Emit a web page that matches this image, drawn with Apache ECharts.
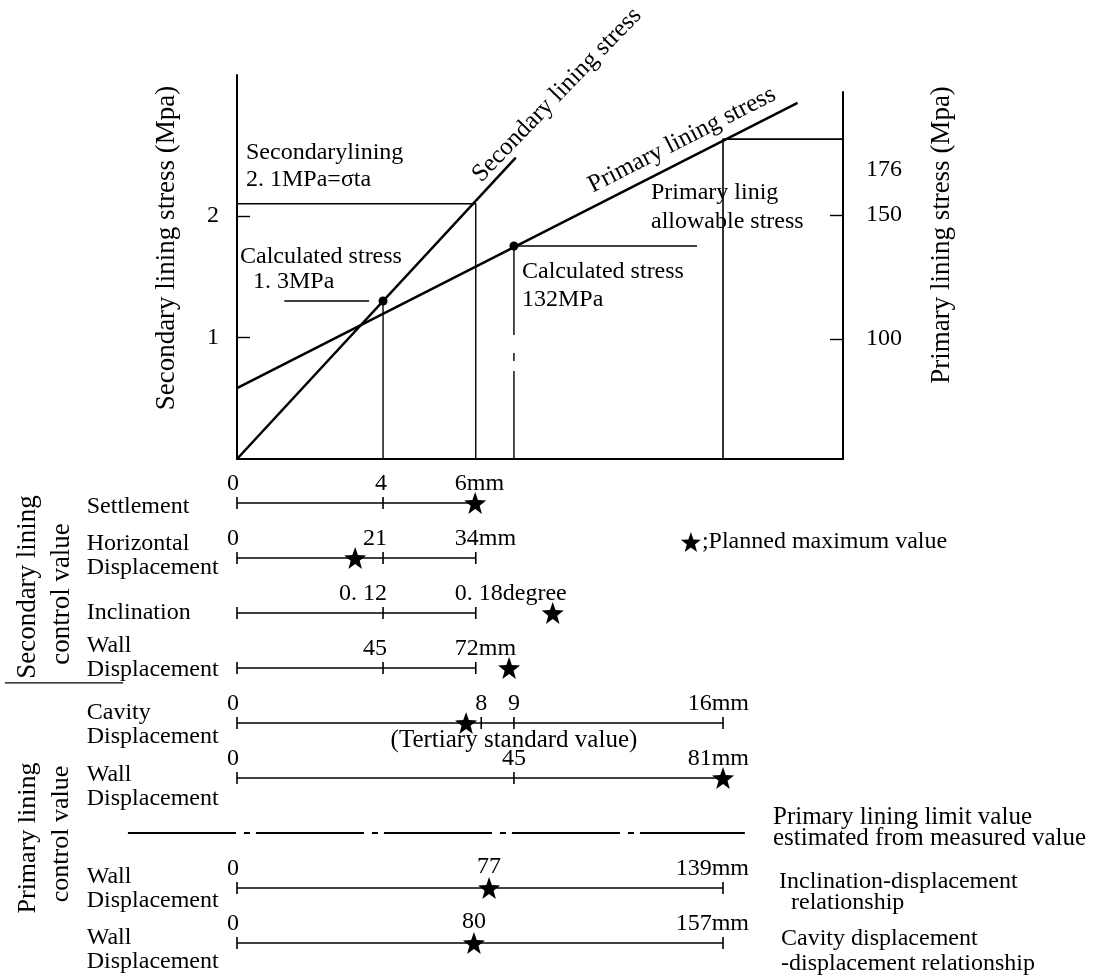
<!DOCTYPE html>
<html><head><meta charset="utf-8">
<script src="https://cdn.jsdelivr.net/npm/echarts@6/dist/echarts.min.js"></script>
<style>html,body{margin:0;padding:0;background:#fff}#c{width:1095px;height:979px}</style>
</head><body><div id="c"></div>
<script>
// ================= DATA =================
// x = schematic position along the displacement scales (0 = origin, 100 = right axis)
const secondaryStressLine = [[0, 0], [46.0, 2.48]];              // MPa (left axis)
const secondaryAllowable  = [[0, 2.1], [39.4, 2.1], [39.4, 0]];   // 2.1 MPa = σta
const secondaryCalculated = [24.1, 1.3];                          // 1.3 MPa
const primaryStressLine   = [[0, 80.2], [92.5, 195.2]];           // MPa (right axis)
const primaryCalculated   = [45.7, 137.5];                        // labelled 132 MPa
const primaryAllowable    = [[100, 180.6], [80.2, 180.6], [80.2, 51.6]]; // labelled 176
const leftTickValues  = [1, 2];
const rightTickValues = [100, 150];

// control value rows (row 6 is the dash-dot "limit value" divider)
const rowNames = ['Settlement', 'Horizontal\nDisplacement', 'Inclination', 'Wall\nDisplacement',
  'Cavity\nDisplacement', 'Wall\nDisplacement', '', 'Wall\nDisplacement', 'Wall\nDisplacement'];
const rowTickPos = [[0, 24.1, 39.4], [0, 24.1, 39.4], [0, 24.1, 39.4], [0, 24.1, 39.4],
  [0, 40.3, 45.7, 80.2], [0, 45.7, 80.2], [], [0, 80.2], [0, 80.2]];
const rowTickLabels = [['0', '4', '6mm'], ['0', '21', '34mm'], ['', '0. 12', '0. 18degree'], ['', '45', '72mm'],
  ['0', '8', '9', '16mm'], ['0', '45', '81mm'], [], ['0', '139mm'], ['0', '157mm']];
const starPos    = [39.3, 19.5, 52.1, 44.9, 37.8, 80.2, null, 41.6, 39.1];
const starLabels = ['', '', '', '', '', '', '', '77', '80'];

// ================= STYLE =================
const FONT = '"Liberation Serif","Times New Roman",serif';
const STAR = 'path://M12,0.5 L14.9,8.6 L23.5,8.9 L16.7,14.2 L19.1,22.5 L12,17.6 L4.9,22.5 L7.3,14.2 L0.5,8.9 L9.1,8.6 Z';
const rowNameDy = [4, -2, 0, -10, 2, 9, 0, 1, 7];
const rowNameX = -24.8;
const BLACK = { color: '#000', opacity: 1 };

const line = (data, i, w, extra) => ({
  type: 'line', xAxisIndex: i, yAxisIndex: i, data, symbol: 'none', silent: true, clip: false,
  animation: false, lineStyle: Object.assign({ color: '#000', width: w }, extra || {})
});
const series = [];

// ---- top chart: secondary (grid 0)
series.push(line(secondaryStressLine, 0, 2.5));
series.push(line(secondaryAllowable, 0, 1.4));
series.push(line([[7.8, secondaryCalculated[1]], [21.8, secondaryCalculated[1]]], 0, 1.4));
series.push(line([secondaryCalculated, [secondaryCalculated[0], 0]], 0, 1.4));
series.push({ type: 'scatter', xAxisIndex: 0, yAxisIndex: 0, data: [secondaryCalculated], symbolSize: 9,
  itemStyle: BLACK, silent: true, animation: false });

// ---- top chart: primary (grid 1)
series.push(line(primaryStressLine, 1, 2.5));
series.push(line([primaryCalculated, [75.9, primaryCalculated[1]]], 1, 1.4));
series.push(line([primaryCalculated, [primaryCalculated[0], 51.6]], 1, 1.4, { type: [89, 18, 8, 10, 400] }));
series.push(line(primaryAllowable, 1, 1.6));
series.push({ type: 'scatter', xAxisIndex: 1, yAxisIndex: 1, data: [primaryCalculated], symbolSize: 9,
  itemStyle: BLACK, silent: true, animation: false });

// ---- rows (grid 2)
const tickData = [], labelData = [], starData = [], nameData = [];
rowTickPos.forEach((ticks, r) => {
  if (ticks.length) series.push(line([[0, r], [ticks[ticks.length - 1], r]], 2, 1.4));
  ticks.forEach((p, k) => {
    tickData.push([p, r]);
    const t = rowTickLabels[r][k];
    if (!t) return;
    let align = 'center', dx = 0;
    const last = k === ticks.length - 1;
    if (t === '0') { dx = -4; }
    else if (r <= 3 && k === 1) { align = 'right'; dx = 4; }
    else if (r <= 3 && last) { align = 'left'; dx = -21; }
    else if (last) { align = 'right'; dx = 26; }
    labelData.push({ value: [p, r], label: { formatter: t, align, offset: [dx, 0] } });
  });
  if (starPos[r] != null) {
    starData.push([starPos[r], r]);
    if (starLabels[r]) labelData.push({ value: [starPos[r], r], label: { formatter: starLabels[r], align: 'center', offset: [0, -2] } });
  }
  if (rowNames[r]) nameData.push({ value: [rowNameX, r], label: { formatter: rowNames[r], offset: [0, rowNameDy[r]] } });
});
// note under the cavity "9" tick
labelData.push({ value: [rowTickPos[4][2], 4], label: { formatter: '(Tertiary standard value)', position: 'bottom', distance: 5, fontSize: 25, align: 'center' } });

series.push({ type: 'scatter', xAxisIndex: 2, yAxisIndex: 2, data: tickData, symbol: 'rect', symbolSize: [1.6, 12],
  itemStyle: BLACK, silent: true, animation: false, clip: false });
series.push({ type: 'scatter', xAxisIndex: 2, yAxisIndex: 2, data: labelData, symbolSize: 0, itemStyle: BLACK,
  silent: true, animation: false, clip: false,
  label: { show: true, position: 'top', distance: 7, color: '#000', fontFamily: FONT, fontSize: 24 } });
series.push({ type: 'scatter', xAxisIndex: 2, yAxisIndex: 2, data: starData, symbol: STAR, symbolSize: 22,
  itemStyle: BLACK, silent: true, animation: false, clip: false, z: 5 });
series.push({ type: 'scatter', xAxisIndex: 2, yAxisIndex: 2, data: nameData, symbolSize: 0, itemStyle: BLACK,
  silent: true, animation: false, clip: false,
  label: { show: true, position: 'right', distance: 0, color: '#000', fontFamily: FONT, fontSize: 24, lineHeight: 24, align: 'left' } });
// legend star
series.push({ type: 'scatter', xAxisIndex: 2, yAxisIndex: 2, data: [[74.9, 0.71]], symbol: STAR, symbolSize: 20,
  itemStyle: BLACK, silent: true, animation: false, clip: false,
  label: { show: true, position: 'right', distance: 1, formatter: ';Planned maximum value', color: '#000', fontFamily: FONT, fontSize: 24 } });
// dash-dot divider & separator
series.push(line([[-18, 6], [83.8, 6]], 2, 2, { type: [108, 8, 6, 6] }));
series.push(line([[-38.3, 3.27], [-18.8, 3.27]], 2, 1.4));

// ================= GRAPHIC TEXT =================
const T = (x, y, text, o) => {
  o = o || {};
  return { type: 'text', x, y, rotation: (o.rot || 0) * Math.PI / 180, silent: true,
    style: { text, fill: '#000', fontFamily: FONT, fontSize: o.size || 24, align: o.align || 'left',
      verticalAlign: 'middle', lineHeight: o.lh || undefined } };
};
const graphic = [
  T(246, 153, 'Secondarylining'),
  T(246, 180, '2. 1MPa=σta'),
  T(240, 257, 'Calculated stress'),
  T(253, 282, '1. 3MPa'),
  T(522, 272, 'Calculated stress'),
  T(522, 300, '132MPa'),
  T(651, 193, 'Primary linig'),
  T(651, 222, 'allowable stress'),
  T(866, 170, '176'),
  T(557, 95, 'Secondary lining stress', { rot: 46, align: 'center', size: 25 }),
  T(682, 140, 'Primary lining stress', { rot: 27, align: 'center', size: 25 }),
  T(167, 248, 'Secondary lining stress (Mpa)', { rot: 90, align: 'center', size: 27 }),
  T(942, 235, 'Primary lining stress (Mpa)', { rot: 90, align: 'center', size: 27 }),
  T(28, 587, 'Secondary lining', { rot: 90, align: 'center', size: 27 }),
  T(62, 594, 'control value', { rot: 90, align: 'center', size: 27 }),
  T(28, 838, 'Primary lining', { rot: 90, align: 'center', size: 26 }),
  T(61, 834, 'control value', { rot: 90, align: 'center', size: 26 }),
  T(773, 828, 'Primary lining limit value\nestimated from measured value', { lh: 21, size: 25 }),
  T(779, 892, 'Inclination-displacement\n  relationship', { lh: 21 }),
  T(781, 951, 'Cavity displacement\n-displacement relationship', { lh: 25 })
];

// ================= OPTION =================
const hidden = { show: false };
const option = {
  backgroundColor: '#fff',
  animation: false,
  grid: [
    { left: 237, right: 252, top: 75, bottom: 520 },
    { left: 237, right: 252, top: 92, bottom: 520 },
    { left: 0, right: 252, top: 503, bottom: 36 }
  ],
  xAxis: [
    { type: 'value', gridIndex: 0, min: 0, max: 100, axisLine: { show: true, onZero: false, lineStyle: { color: '#000', width: 2 } },
      axisTick: hidden, axisLabel: hidden, splitLine: hidden },
    { type: 'value', gridIndex: 1, min: 0, max: 100, axisLine: hidden, axisTick: hidden, axisLabel: hidden, splitLine: hidden },
    { type: 'value', gridIndex: 2, min: -39.11, max: 100, axisLine: hidden, axisTick: hidden, axisLabel: hidden, splitLine: hidden }
  ],
  yAxis: [
    { type: 'value', gridIndex: 0, min: 0, max: 3.16, position: 'left',
      axisLine: { show: true, onZero: false, lineStyle: { color: '#000', width: 2 } },
      axisTick: { show: true, inside: true, length: 13, customValues: leftTickValues, lineStyle: { color: '#000', width: 1.4 } },
      axisLabel: { show: true, customValues: leftTickValues, margin: 18, color: '#000', fontFamily: FONT, fontSize: 24 },
      splitLine: hidden },
    { type: 'value', gridIndex: 1, min: 51.6, max: 199.6, position: 'right',
      axisLine: { show: true, onZero: false, lineStyle: { color: '#000', width: 2 } },
      axisTick: { show: true, inside: true, length: 13, customValues: rightTickValues, lineStyle: { color: '#000', width: 1.4 } },
      axisLabel: { show: true, customValues: rightTickValues, margin: 23, color: '#000', fontFamily: FONT, fontSize: 24 },
      splitLine: hidden },
    { type: 'value', gridIndex: 2, min: 0, max: 8, inverse: true, axisLine: hidden, axisTick: hidden, axisLabel: hidden, splitLine: hidden }
  ],
  series,
  graphic
};
const chart = echarts.init(document.getElementById('c'), null, { renderer: 'canvas' });
chart.setOption(option);
</script>
</body></html>
